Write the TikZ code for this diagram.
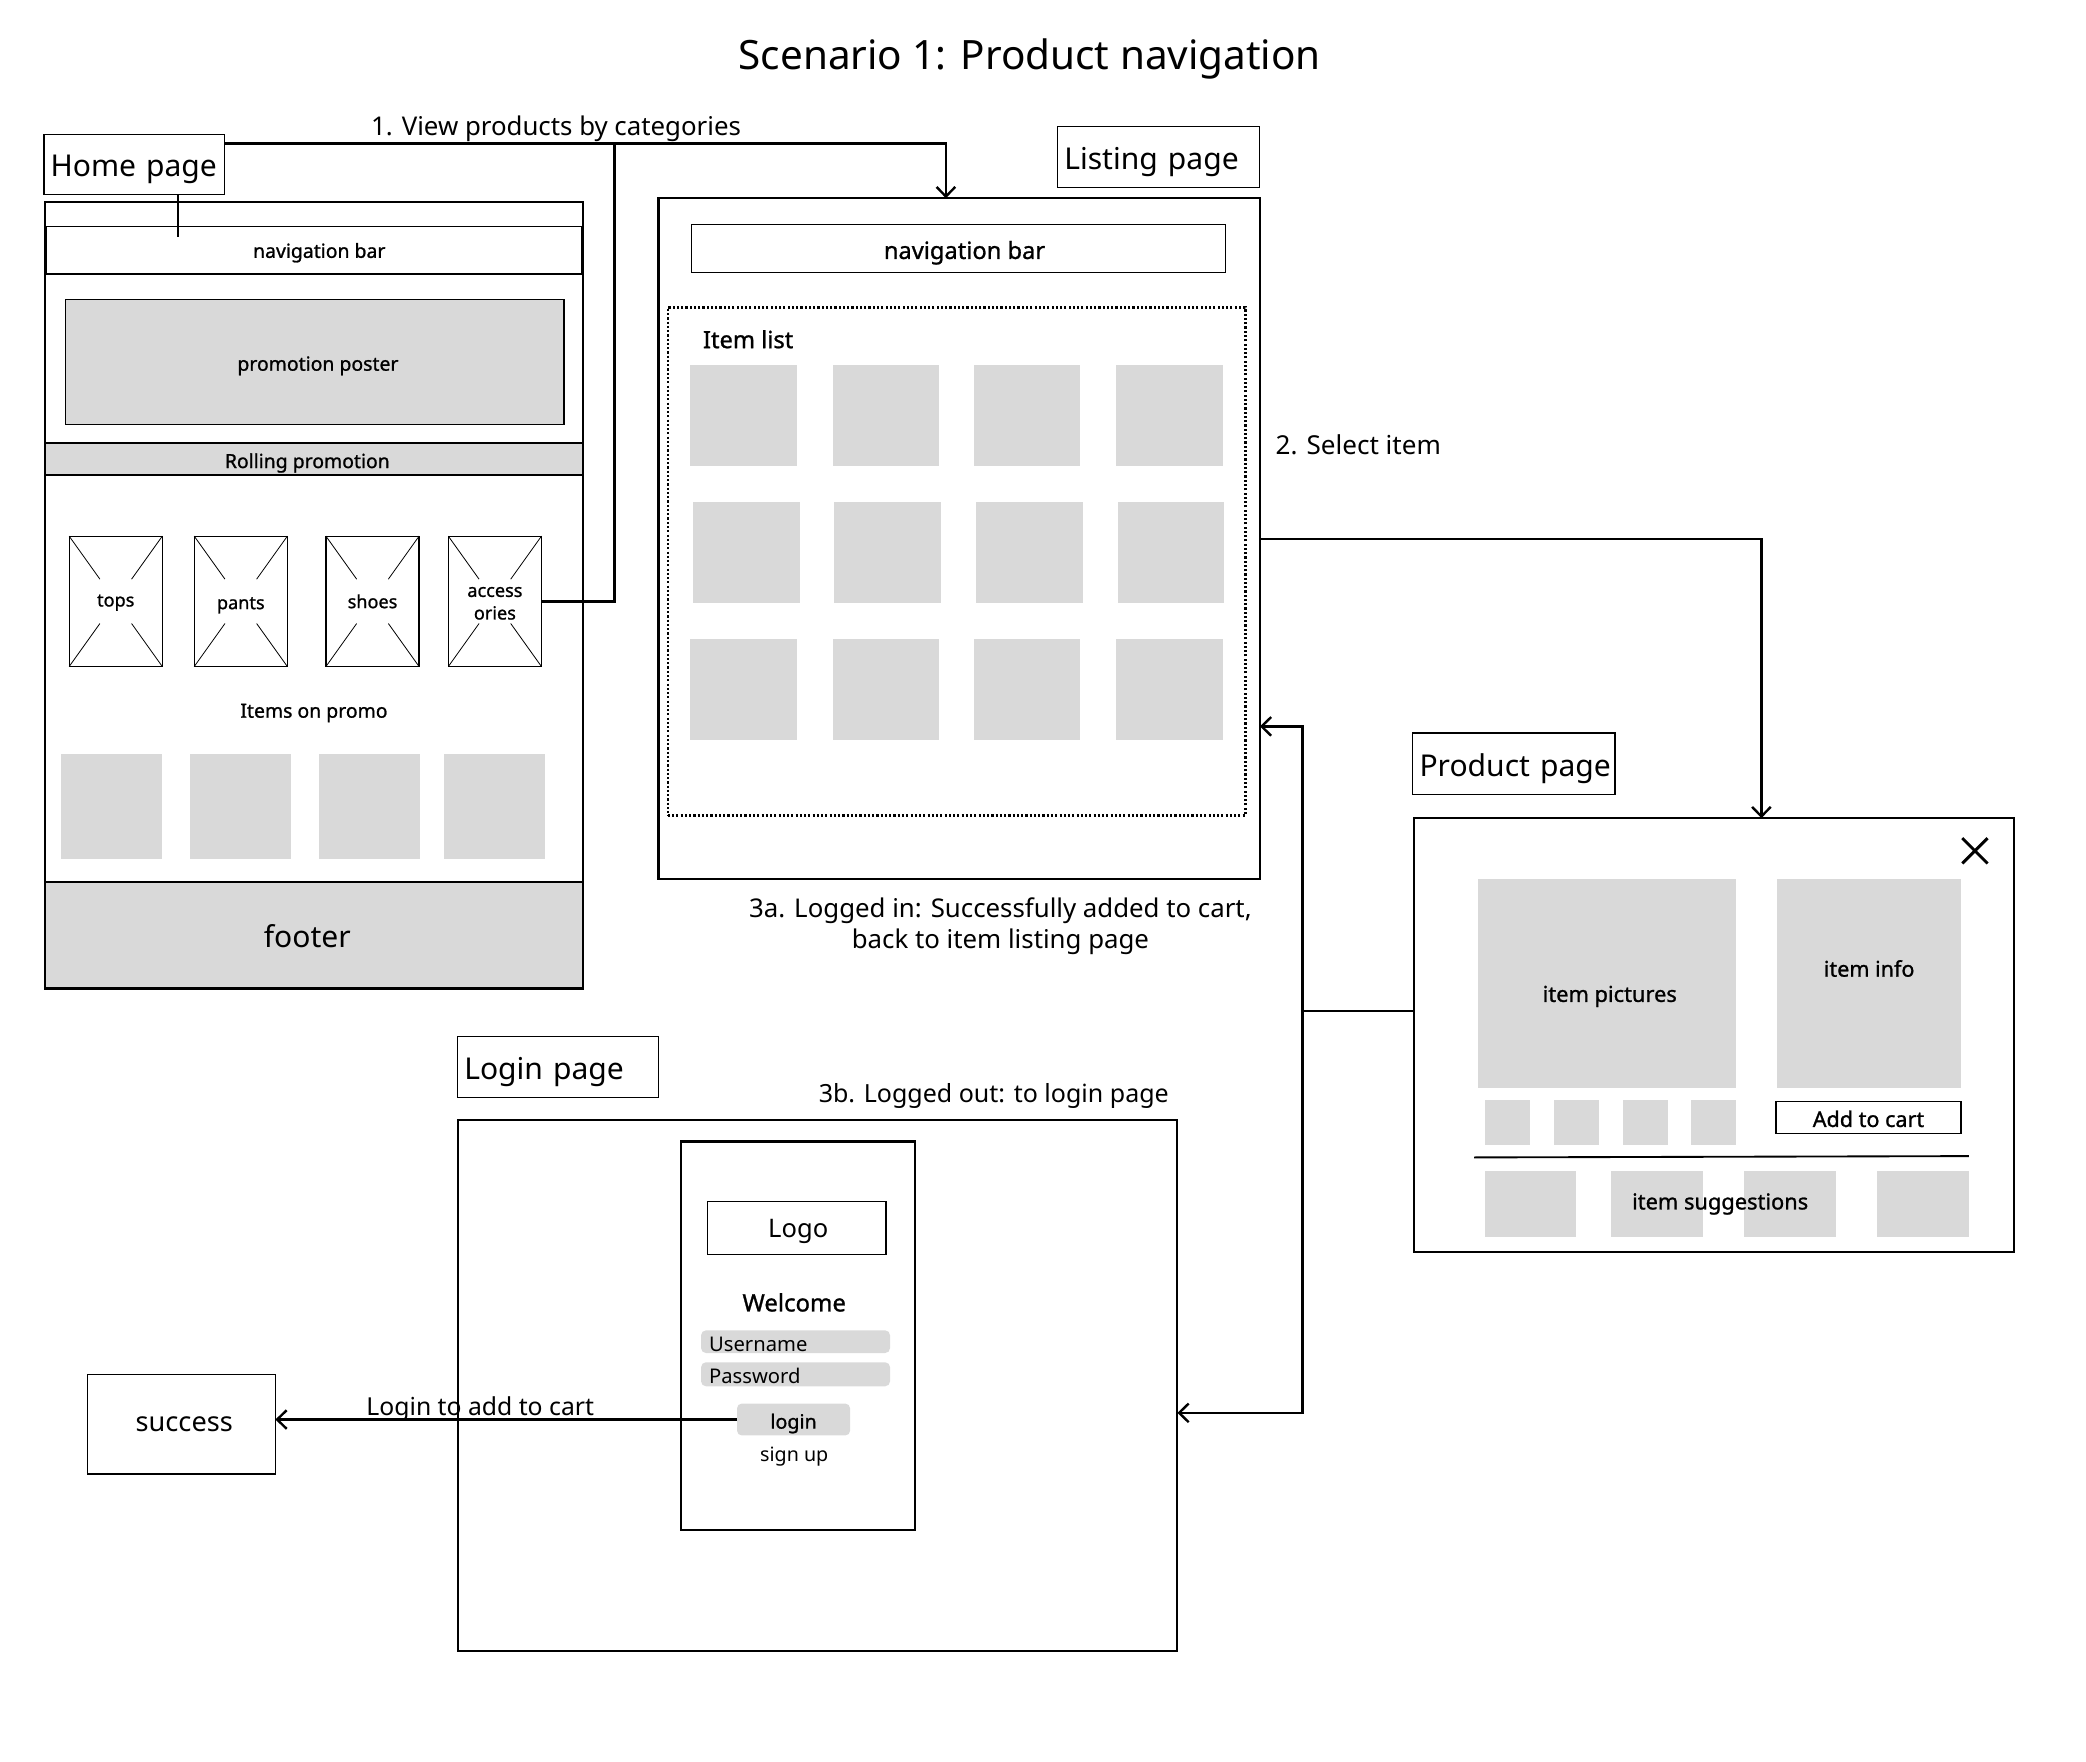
\documentclass[tikz,border=0pt]{standalone}
\usepackage{fontspec}
\setmainfont{Noto Sans}
\newfontfamily\sbfont{Noto Sans}[FakeBold=1.1]
\usetikzlibrary{arrows.meta,calc}
\definecolor{boxgray}{HTML}{D9D9D9}
\newcommand\fsz[2]{\fontsize{#1}{#2}\selectfont}
\newcommand\dn[2]{\raisebox{-#1pt}[\height][\depth]{#2}}
% rectangle node: name, style, x1, y1, x2, y2, text
\newcommand\rect[7]{\node[#2,anchor=north west,inner sep=0pt,outer sep=0pt,minimum width={(#5-#3)*0.5pt},minimum height={(#6-#4)*0.5pt}] (#1) at (#3,#4) {#7};}
% label box: name, x1, y1, x2, y2, text
\newcommand\lbl[6]{\node[draw,line width=0.45pt,anchor=north west,inner xsep=2.5pt,inner ysep=0pt,outer sep=0pt,minimum height={(#5-#3)*0.5pt},text width={(#4-#2-10)*0.5pt},align=left,font=\fsz{11.3}{13}] (#1) at (#2,#3) {\dn{2}{\mbox{#6}}};}
\tikzset{
  frame/.style={draw,line width=0.8pt},
  thinbox/.style={draw,line width=0.45pt},
  grayfill/.style={fill=boxgray},
  dotbox/.style={draw,line width=1pt,dash pattern=on 0.8pt off 0.8pt},
  conn/.style={line width=0.9pt},
  arr/.style={-{Straight Barb[length=3.6pt,width=7pt]}},
  sb/.style={font=\fsz{#1}{#1}\sbfont},
  rg/.style={font=\fsz{#1}{#1}},
  field/.style={fill=boxgray,rounded corners=1.8pt,anchor=north west,inner xsep=3pt,inner ysep=0pt,outer sep=0pt,align=left},
}
\begin{document}
\begin{tikzpicture}[x=0.5pt,y=-0.5pt]
\useasboundingbox (0,0) rectangle (1568,1324);

% title
\node[rg=15.2] (title) at (774,44) {Scenario 1: Product navigation};

% ---------------- Home page ----------------
\lbl{homelbl}{33}{101}{169}{146}{Home page}
\rect{home}{frame}{34}{152}{438}{743}{}
\rect{hnav}{thinbox,sb=7.3}{35}{170}{437}{206}{\dn{1}{\hspace*{4pt}navigation bar}}
\rect{poster}{thinbox,grayfill,sb=7.3}{49}{225}{424}{319}{\dn{1.5}{\hspace*{2.5pt}promotion poster}}
\rect{rolling}{frame,grayfill,sb=7.3}{34}{333}{438}{357}{\dn{1.5}{\hspace*{-5pt}Rolling promotion}}
\rect{tops}{thinbox,sb=6.8}{52}{403}{122}{501}{\dn{0.5}{tops}}
\rect{pants}{thinbox,sb=6.8}{146}{403}{216}{501}{\dn{1.5}{pants}}
\rect{shoes}{thinbox,sb=6.8}{245}{403}{315}{501}{shoes}
\rect{acc}{thinbox}{337}{403}{407}{501}{}
\node[align=center,font=\fsz{6.8}{8.5}\sbfont] (acctxt) at (372,453.5) {access\\ories};
\foreach \c in {tops,pants,shoes,acc}{
  \draw[line width=0.3pt] (\c.north west) -- ($(\c.north west)!0.33!(\c.south east)$);
  \draw[line width=0.3pt] (\c.south east) -- ($(\c.south east)!0.33!(\c.north west)$);
  \draw[line width=0.3pt] (\c.north east) -- ($(\c.north east)!0.33!(\c.south west)$);
  \draw[line width=0.3pt] (\c.south west) -- ($(\c.south west)!0.33!(\c.north east)$);
}
\node[sb=7.3] (promo) at (236,536) {Items on promo};
\rect{p1}{grayfill}{46}{567}{122}{646}{}
\rect{p2}{grayfill}{143}{567}{219}{646}{}
\rect{p3}{grayfill}{240}{567}{316}{646}{}
\rect{p4}{grayfill}{334}{567}{410}{646}{}
\rect{footer}{frame,grayfill,rg=11.3}{34}{663}{438}{743}{\dn{0.5}{\hspace*{-5pt}footer}}

% ---------------- Listing page ----------------
\lbl{listlbl}{795}{95}{947}{141}{Listing page}
\rect{listing}{frame}{495}{149}{947}{661}{}
\rect{lnav}{thinbox,sb=8.9}{520}{169}{921}{205}{\dn{1.5}{\hspace*{4.5pt}navigation bar}}
\rect{itemlist}{dotbox}{502}{231}{936}{613}{}
\node[sb=8.9,anchor=west,inner sep=0pt] (itemlisttxt) at (528,255) {Item list};
\foreach \xa/\xb [count=\i] in {519/599,626/706,732/812,839/919}{
  \rect{ra\i}{grayfill}{\xa}{274}{\xb}{350}{}
  \rect{rc\i}{grayfill}{\xa}{480}{\xb}{556}{}
}
\foreach \xa/\xb [count=\i] in {521/601,627/707,734/814,840/920}{
  \rect{rb\i}{grayfill}{\xa}{377}{\xb}{453}{}
}

% ---------------- Product page ----------------
\lbl{prodlbl}{1062}{551}{1214}{597}{Product page}
\rect{product}{frame}{1063}{615}{1514}{941}{}
\draw[line width=1.1pt] (1475,630) -- (1494,649) (1494,630) -- (1475,649);
\rect{pics}{grayfill}{1111}{661}{1305}{818}{}
\node[sb=8.2] (picstxt) at (1210,749) {item pictures};
\rect{info}{grayfill}{1336}{661}{1474}{818}{}
\node[sb=8.1] (infotxt) at (1405,728) {item info};
\rect{t1}{grayfill}{1116}{827}{1150}{861}{}
\rect{t2}{grayfill}{1168}{827}{1202}{861}{}
\rect{t3}{grayfill}{1220}{827}{1254}{861}{}
\rect{t4}{grayfill}{1271}{827}{1305}{861}{}
\rect{cart}{thinbox,sb=8.1}{1335}{828}{1474}{852}{\dn{0.5}{Add to cart}}
\draw[line width=0.7pt] (1108,870) -- (1480,869);
\rect{s1}{grayfill}{1116}{880}{1185}{930}{}
\rect{s2}{grayfill}{1211}{880}{1280}{930}{}
\rect{s3}{grayfill}{1311}{880}{1380}{930}{}
\rect{s4}{grayfill}{1411}{880}{1480}{930}{}
\node[sb=8.2] (sugg) at (1293,905) {item suggestions};

% ---------------- Login page ----------------
\lbl{loginlbl}{344}{779}{495}{825}{Login page}
\rect{login}{frame}{344}{842}{885}{1241}{}
\rect{phone}{frame}{512}{858}{688}{1150}{}
\rect{logo}{thinbox,rg=9.6}{532}{903}{666}{943}{\dn{1.5}{\hspace*{1pt}Logo}}
\node[sb=9] (welcome) at (597,979) {Welcome};
\node[field,minimum height=8.5pt,text width=65pt,font=\fsz{7.6}{8}] (user) at (527,1000) {\dn{1}{Username}};
\node[field,minimum height=9pt,text width=65pt,font=\fsz{7.6}{8}] (pass) at (527,1024) {\dn{0.5}{Password}};
\node[fill=boxgray,rounded corners=1.8pt,anchor=north west,inner sep=0pt,outer sep=0pt,minimum width=42.5pt,minimum height=12pt,sb=7.4] (loginbtn) at (554,1055) {\dn{1.5}{login}};
\node[rg=7.4] (signup) at (597,1095) {sign up};

\rect{success}{thinbox,rg=10.2}{66}{1033}{207}{1108}{\hspace*{2pt}success}

% ---------------- connectors ----------------
\coordinate (j1) at (462,108);
\coordinate (a1) at (711,149);
\coordinate (stub) at (134,178);
\draw[conn] (homelbl.south -| stub) -- (stub);
\draw[conn] (homelbl.east |- j1) -- (j1);
\draw[conn] (acc.east) -| (j1);
\draw[conn,arr] (j1) -| (a1);
\node[rg=9.7] (lab1) at (418,97) {1. View products by categories};

\coordinate (s1c) at (1324,405);
\coordinate (a2) at (1324,615);
\draw[conn,arr] (listing.east |- s1c) -- (s1c) -- (a2);
\node[rg=9.8] (lab2) at (1021,334) {2. Select item};

\coordinate (v1) at (979,546);
\coordinate (pv) at (979,760);
\coordinate (v2) at (979,1062);
\draw[conn] (product.west |- pv) -- (pv);
\draw[conn,{Straight Barb[length=3.6pt,width=7pt]}-{Straight Barb[length=3.6pt,width=7pt]}] (listing.east |- v1) -- (v1) -- (v2) -- (login.east |- v2);
\node[align=center,font=\fsz{9.7}{11.5}] (lab3a) at (752,696) {3a. Logged in: Successfully added to cart,\\back to item listing page};
\node[rg=9.4] (lab3b) at (747,824) {3b. Logged out: to login page};

\draw[conn,arr] (loginbtn.west) -- (success.east |- loginbtn.west);
\node[rg=9.3] (lab4) at (361,1059) {Login to add to cart};
\end{tikzpicture}
\end{document}
